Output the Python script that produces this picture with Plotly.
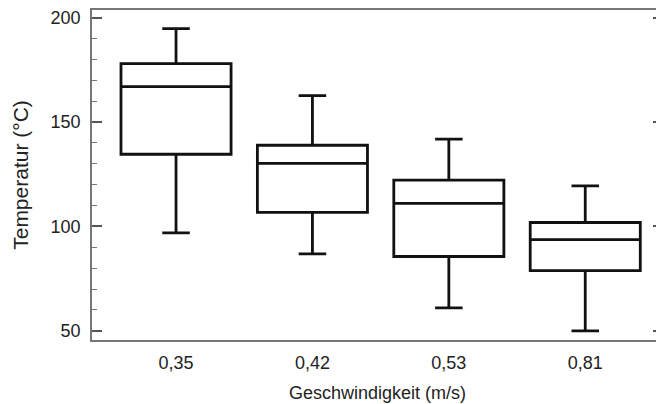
import plotly.graph_objects as go

categories = ["0,35", "0,42", "0,53", "0,81"]
lower_whisker = [96.9, 86.9, 61.0, 50.0]
q1_values = [134.6, 106.7, 85.6, 78.8]
median_values = [167.0, 130.2, 111.1, 93.7]
q3_values = [178.0, 138.9, 122.2, 101.9]
upper_whisker = [194.8, 162.7, 141.8, 119.4]
y_tick_values = [50, 100, 150, 200]

positions = list(range(len(categories)))

fig = go.Figure()
fig.add_trace(go.Box(
    x=positions,
    q1=q1_values,
    median=median_values,
    q3=q3_values,
    lowerfence=lower_whisker,
    upperfence=upper_whisker,
    width=0.807,
    whiskerwidth=0.25,
    fillcolor="rgba(255,255,255,0)",
    line=dict(color="#111111", width=2.8),
    boxpoints=False,
    hoverinfo="skip",
    showlegend=False,
))

font_family = "Liberation Sans, Arial, sans-serif"
fig.update_layout(
    width=664, height=404,
    margin=dict(l=84, r=9, t=0, b=72),
    paper_bgcolor="white", plot_bgcolor="white",
    font=dict(family=font_family, size=18, color="#222222"),
    showlegend=False,
)
fig.update_xaxes(
    range=[-0.616, 3.57],
    tickvals=positions, ticktext=categories,
    showgrid=False, zeroline=False,
    showline=True, linecolor="#777777", linewidth=1.5, mirror=True,
    ticks="", tickfont=dict(size=18, color="#222222"),
    ticklabelstandoff=6,
    title=dict(text="Geschwindigkeit (m/s)", font=dict(size=18, color="#222222"), standoff=14),
)
fig.update_yaxes(
    range=[45.6, 203.7],
    tickvals=y_tick_values,
    showgrid=False, zeroline=False,
    showline=True, linecolor="#777777", linewidth=1.5, mirror="ticks",
    ticks="inside", ticklen=10, tickwidth=1.5, tickcolor="#555555",
    minor=dict(dtick=10, ticks="inside", ticklen=5, tickwidth=1.2, tickcolor="#777777", showgrid=False),
    tickfont=dict(size=18, color="#222222"),
    ticklabelstandoff=6,
    title=dict(text="Temperatur (°C)", font=dict(size=21, color="#222222"), standoff=16),
)

fig.write_html("out.html")
